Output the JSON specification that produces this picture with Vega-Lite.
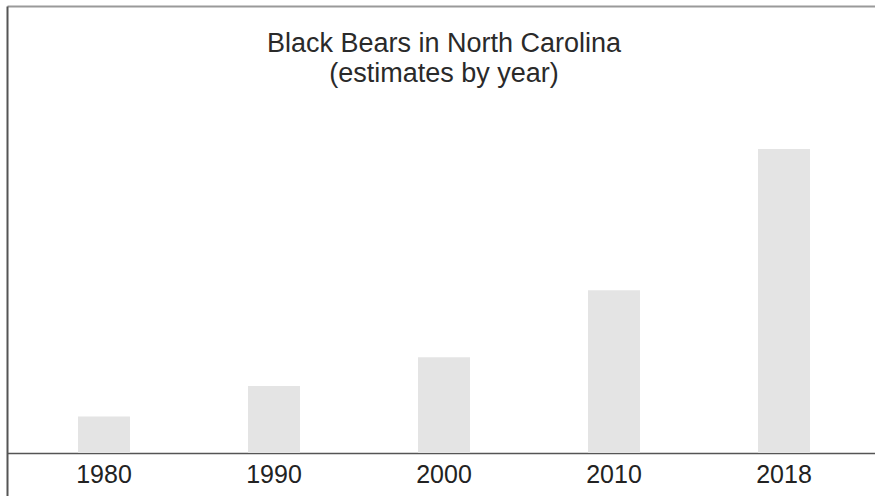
{
  "$schema": "https://vega.github.io/schema/vega-lite/v6.json",
  "autosize": "none",
  "padding": {"left": 7, "top": 6, "right": 0, "bottom": 0},
  "width": 868,
  "height": 490,
  "background": "white",
  "config": {"view": {"stroke": null}},
  "title": {
    "text": ["Black Bears in North Carolina", "(estimates by year)"],
    "font": "Liberation Sans",
    "fontSize": 27,
    "fontWeight": "normal",
    "color": "#2a2a2a",
    "lineHeight": 30,
    "anchor": "middle",
    "baseline": "alphabetic",
    "offset": -103,
    "dx": 3
  },
  "data": {
    "values": [
      {"year": "1980", "bears": 2400},
      {"year": "1990", "bears": 4400},
      {"year": "2000", "bears": 6300},
      {"year": "2010", "bears": 10700},
      {"year": "2018", "bears": 20000}
    ]
  },
  "layer": [
    {
      "mark": {"type": "bar", "color": "#e4e4e4"},
      "encoding": {
        "x": {
          "field": "year",
          "type": "ordinal",
          "sort": null,
          "scale": {"paddingInner": 0.6941, "paddingOuter": 0.4, "align": 0.522},
          "axis": {
            "orient": "bottom",
            "title": null,
            "offset": -43,
            "ticks": false,
            "labelAngle": 0,
            "labelPadding": 9,
            "labelFont": "Liberation Sans",
            "labelFontSize": 25,
            "labelColor": "#222222",
            "domainColor": "#555555",
            "domainWidth": 1.5,
            "grid": false
          }
        },
        "y": {
          "field": "bears",
          "type": "quantitative",
          "scale": {"domain": [-2829, 29408], "nice": false, "zero": false},
          "axis": {
            "title": null,
            "labels": false,
            "ticks": false,
            "grid": false,
            "domainColor": "#555555",
            "domainWidth": 2
          }
        },
        "y2": {"datum": 0}
      }
    },
    {
      "mark": {"type": "bar", "opacity": 0},
      "encoding": {
        "x": {
          "field": "year",
          "type": "ordinal",
          "sort": null,
          "axis": {
            "orient": "top",
            "title": null,
            "labels": false,
            "ticks": false,
            "grid": false,
            "domainColor": "#9a9a9a",
            "domainWidth": 2
          }
        },
        "y": {"field": "bears", "type": "quantitative"},
        "y2": {"datum": 0}
      }
    }
  ],
  "resolve": {"axis": {"x": "independent"}}
}
